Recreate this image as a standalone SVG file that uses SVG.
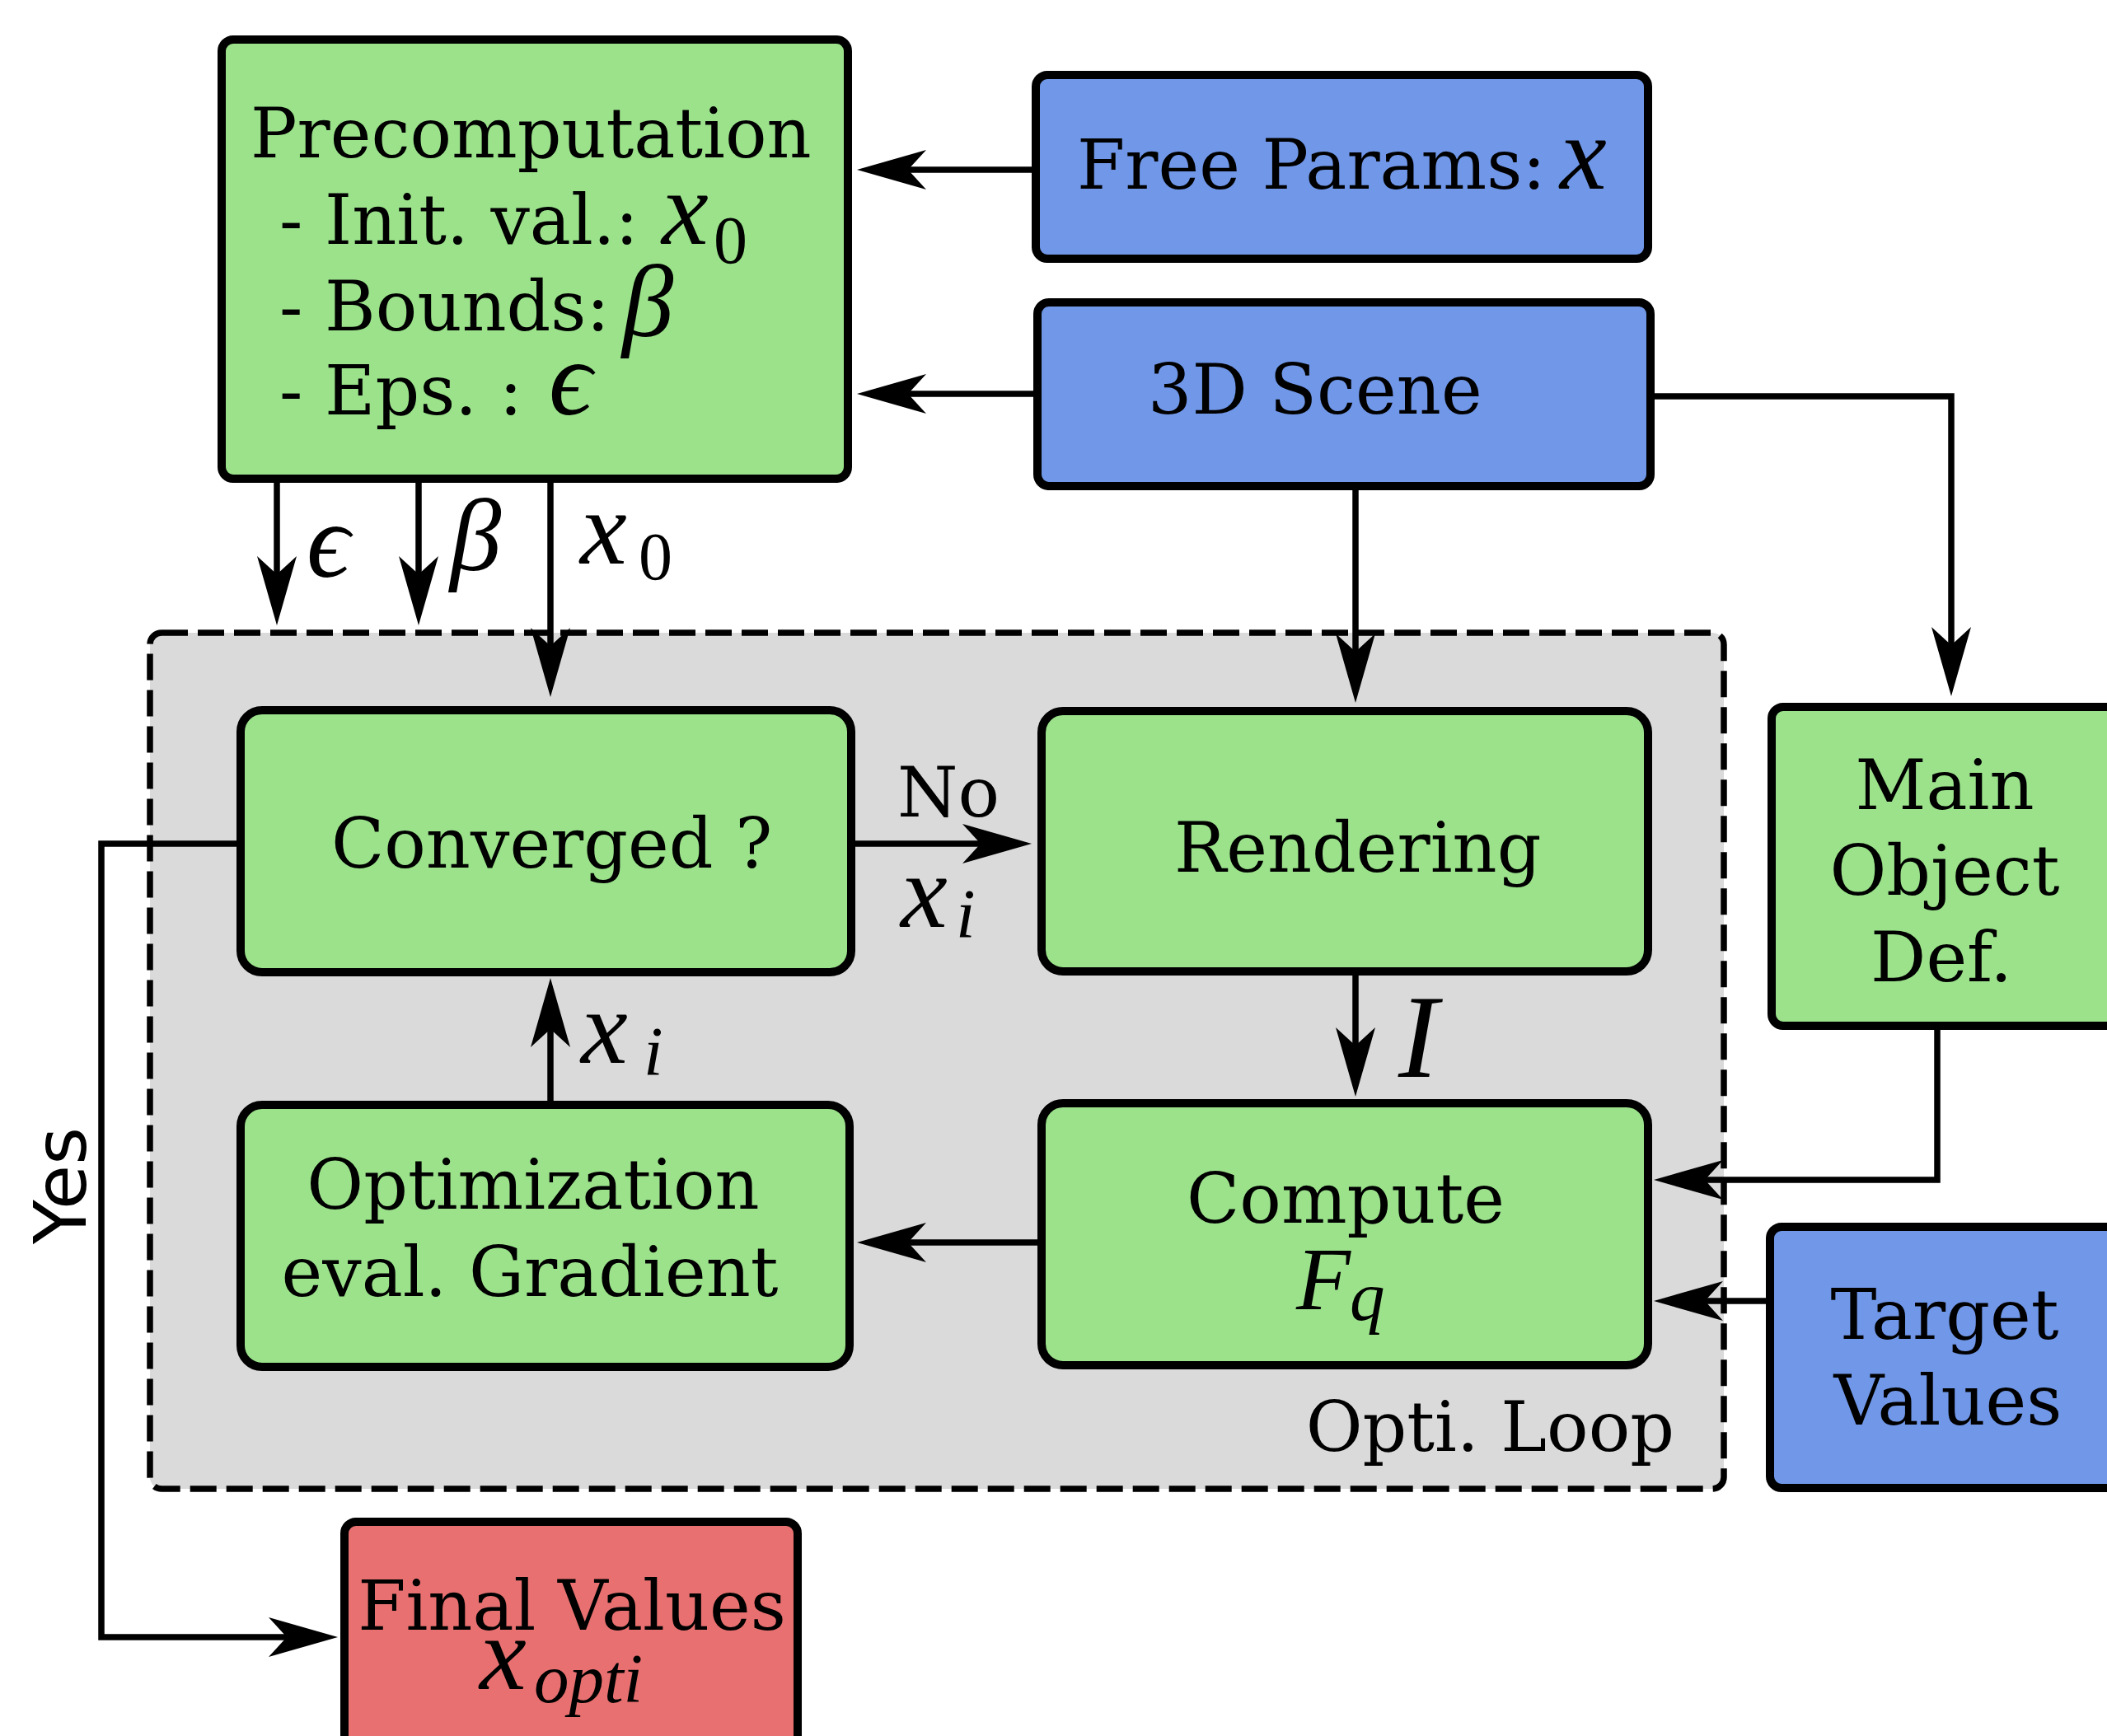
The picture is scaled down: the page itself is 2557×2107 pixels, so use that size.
<svg xmlns="http://www.w3.org/2000/svg" width="2557" height="2107" viewBox="0 0 2557 2107">
<style>
.node{stroke:#000;stroke-width:10;stroke-linejoin:round}
.g{fill:#9be28b}.b{fill:#7097e8}.r{fill:#e87070}
.t{font-family:"DejaVu Serif",serif;font-size:84px;fill:#000}
.m{font-family:"Liberation Serif","DejaVu Serif",serif;font-style:italic;fill:#000}
.s{font-family:"Liberation Serif","DejaVu Serif",serif;fill:#000}
.c{fill:none;stroke:#000;stroke-width:7.5}
</style>
<defs>
<marker id="ah" markerUnits="userSpaceOnUse" viewBox="-25 -26 92 52" markerWidth="92" markerHeight="52" refX="0" refY="0" orient="auto" overflow="visible">
<path d="M62,0 L-22,-24 L0,0 L-22,24 Z" fill="#000"/>
</marker>
</defs>
<rect width="2557" height="2107" fill="#fff"/>
<g id="opti-loop">
<rect x="182" y="768" width="1910" height="1039" rx="14" fill="#dadada" stroke="#000" stroke-width="7.5" stroke-dasharray="32 12"/>
<text class="t" x="2032" y="1761" text-anchor="end">Opti. Loop</text>
</g>
<g id="connectors">
<path class="c" d="M1253,206 H1102" marker-end="url(#ah)"/>
<path class="c" d="M1255,478 H1102" marker-end="url(#ah)"/>
<path class="c" d="M2007,481 H2368 V783" marker-end="url(#ah)"/>
<path class="c" d="M1645,594 V791" marker-end="url(#ah)"/>
<path class="c" d="M336,583 V697" marker-end="url(#ah)"/>
<path class="c" d="M508,583 V697" marker-end="url(#ah)"/>
<path class="c" d="M668,583 V784" marker-end="url(#ah)"/>
<path class="c" d="M1037,1024 H1190" marker-end="url(#ah)"/>
<path class="c" d="M1645,1183 V1269" marker-end="url(#ah)"/>
<path class="c" d="M1260,1508 H1102" marker-end="url(#ah)"/>
<path class="c" d="M668,1337 V1249" marker-end="url(#ah)"/>
<path class="c" d="M2351,1249 V1432 H2069" marker-end="url(#ah)"/>
<path class="c" d="M2146,1579 H2069" marker-end="url(#ah)"/>
<path class="c" d="M288,1024 H123 V1987 H348" marker-end="url(#ah)"/>
<text class="m" x="372" y="700" font-size="130">ϵ</text>
<text class="m" x="546" y="692" font-size="125">β</text>
<text class="m" x="704" y="684" font-size="128">x</text>
<text class="s" x="775" y="703" font-size="82">0</text>
<text class="t" x="1089" y="991">No</text>
<text class="m" x="1093" y="1125" font-size="128">x</text>
<text class="m" x="1160" y="1138" font-size="85">i</text>
<text class="m" x="705" y="1290" font-size="128">x</text>
<text class="m" x="781" y="1305" font-size="85">i</text>
<text class="m" x="1697" y="1307" font-size="145">I</text>
<text font-family="DejaVu Sans,sans-serif" font-size="88" transform="translate(104,1439) rotate(-90)" text-anchor="middle">Yes</text>
</g>
<g id="precomputation">
<rect class="node g" x="269" y="48" width="760" height="533" rx="14"/>
<text class="t" x="304" y="191">Precomputation</text>
<text class="t" x="339" y="296">- Init. val.:</text>
<text class="m" x="803" y="296" font-size="128">x</text>
<text class="s" x="866" y="319" font-size="82">0</text>
<text class="t" x="339" y="401">- Bounds:</text>
<text class="m" x="755" y="408" font-size="125">β</text>
<text class="t" x="339" y="503">- Eps. :</text>
<text class="m" x="666" y="503" font-size="130">ϵ</text>
</g>
<g id="free-params">
<rect class="node b" x="1257" y="91" width="743" height="223" rx="14"/>
<text class="t" x="1307" y="229">Free Params:</text>
<text class="m" x="1893" y="229" font-size="128">x</text>
</g>
<g id="scene">
<rect class="node b" x="1259" y="367" width="744" height="223" rx="14"/>
<text class="t" x="1393" y="502">3D Scene</text>
</g>
<g id="converged">
<rect class="node g" x="292" y="862" width="741" height="318" rx="26"/>
<text class="t" x="402" y="1053">Converged ?</text>
</g>
<g id="rendering">
<rect class="node g" x="1264" y="863" width="736" height="316" rx="26"/>
<text class="t" x="1425" y="1058">Rendering</text>
</g>
<g id="optimization">
<rect class="node g" x="292" y="1341" width="739" height="318" rx="26"/>
<text class="t" x="647" y="1467" text-anchor="middle">Optimization</text>
<text class="t" x="643" y="1573" text-anchor="middle">eval. Gradient</text>
</g>
<g id="compute">
<rect class="node g" x="1264" y="1339" width="736" height="318" rx="26"/>
<text class="t" x="1633" y="1484" text-anchor="middle">Compute</text>
<text class="m" x="1573" y="1589" font-size="108">F</text>
<text class="m" x="1638" y="1602" font-size="85">q</text>
</g>
<g id="main-object">
<rect class="node g" x="2150" y="858" width="460" height="387" rx="14"/>
<text class="t" x="2360" y="982" text-anchor="middle">Main</text>
<text class="t" x="2360" y="1086" text-anchor="middle">Object</text>
<text class="t" x="2356" y="1191" text-anchor="middle">Def.</text>
</g>
<g id="target">
<rect class="node b" x="2148" y="1489" width="460" height="317" rx="14"/>
<text class="t" x="2360" y="1625" text-anchor="middle">Target</text>
<text class="t" x="2364" y="1729" text-anchor="middle">Values</text>
</g>
<g id="final">
<rect class="node r" x="418" y="1847" width="550" height="320" rx="14"/>
<text class="t" x="694" y="1978" text-anchor="middle">Final Values</text>
<text class="m" x="582" y="2050" font-size="128">x</text>
<text class="m" x="648" y="2066" font-size="85">opti</text>
</g>
</svg>
